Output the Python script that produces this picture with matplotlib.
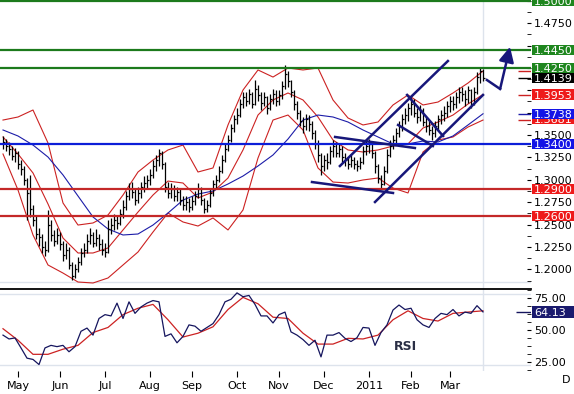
import numpy as np
import matplotlib
matplotlib.use("Agg")
import matplotlib.pyplot as plt
import matplotlib.transforms as mtransforms
from matplotlib.patches import Rectangle
from matplotlib.ticker import FuncFormatter, FormatStrFormatter

# ---- price bars (one bar every 3 px in the original chart) ----
hi = [1.349, 1.346, 1.342, 1.338, 1.336, 1.332, 1.322, 1.316, 1.302, 1.306,
      1.272, 1.260, 1.246, 1.240, 1.232, 1.266, 1.255, 1.244, 1.246, 1.242,
      1.232, 1.230, 1.225, 1.208, 1.206, 1.214, 1.224, 1.230, 1.240, 1.246,
      1.242, 1.245, 1.240, 1.234, 1.230, 1.255, 1.258, 1.262, 1.260, 1.268,
      1.278, 1.288, 1.296, 1.298, 1.290, 1.292, 1.298, 1.304, 1.306, 1.312,
      1.322, 1.328, 1.334, 1.332, 1.320, 1.298, 1.296, 1.294, 1.292, 1.290,
      1.282, 1.282, 1.280, 1.282, 1.288, 1.296, 1.292, 1.280, 1.278, 1.290,
      1.300, 1.306, 1.316, 1.328, 1.340, 1.350, 1.362, 1.372, 1.380, 1.390,
      1.398, 1.398, 1.402, 1.398, 1.411, 1.406, 1.398, 1.398, 1.394, 1.396,
      1.402, 1.400, 1.400, 1.410, 1.428, 1.422, 1.412, 1.400, 1.388, 1.378,
      1.370, 1.374, 1.372, 1.366, 1.356, 1.344, 1.330, 1.328, 1.330, 1.338,
      1.344, 1.342, 1.340, 1.338, 1.330, 1.326, 1.328, 1.326, 1.322, 1.326,
      1.338, 1.344, 1.346, 1.342, 1.332, 1.318, 1.306, 1.316, 1.334, 1.344,
      1.350, 1.358, 1.366, 1.374, 1.380, 1.386, 1.392, 1.390, 1.380, 1.384,
      1.380, 1.370, 1.366, 1.360, 1.366, 1.372, 1.378, 1.382, 1.388, 1.394,
      1.394, 1.398, 1.404, 1.404, 1.400, 1.405, 1.402, 1.404, 1.420, 1.425,
      1.424]
lo = [1.334, 1.332, 1.328, 1.322, 1.320, 1.312, 1.305, 1.294, 1.255, 1.259,
      1.248, 1.234, 1.226, 1.218, 1.215, 1.220, 1.232, 1.226, 1.228, 1.222,
      1.210, 1.212, 1.200, 1.188, 1.190, 1.197, 1.205, 1.214, 1.218, 1.228,
      1.225, 1.226, 1.222, 1.216, 1.214, 1.218, 1.240, 1.244, 1.245, 1.250,
      1.258, 1.266, 1.278, 1.280, 1.272, 1.274, 1.280, 1.286, 1.290, 1.294,
      1.302, 1.310, 1.316, 1.312, 1.286, 1.280, 1.280, 1.276, 1.276, 1.272,
      1.266, 1.266, 1.264, 1.266, 1.272, 1.280, 1.272, 1.263, 1.264, 1.270,
      1.282, 1.290, 1.298, 1.308, 1.320, 1.332, 1.342, 1.354, 1.362, 1.370,
      1.380, 1.382, 1.385, 1.380, 1.384, 1.388, 1.378, 1.382, 1.374, 1.378,
      1.385, 1.382, 1.384, 1.390, 1.402, 1.404, 1.392, 1.378, 1.368, 1.360,
      1.352, 1.356, 1.355, 1.346, 1.334, 1.320, 1.305, 1.310, 1.312, 1.318,
      1.326, 1.325, 1.326, 1.320, 1.316, 1.312, 1.314, 1.312, 1.310, 1.312,
      1.318, 1.328, 1.330, 1.324, 1.308, 1.296, 1.290, 1.294, 1.308, 1.326,
      1.334, 1.340, 1.348, 1.355, 1.362, 1.366, 1.372, 1.370, 1.364, 1.366,
      1.360, 1.354, 1.350, 1.345, 1.348, 1.356, 1.362, 1.366, 1.370, 1.376,
      1.378, 1.380, 1.386, 1.388, 1.382, 1.386, 1.380, 1.384, 1.396, 1.408,
      1.410]
cl = [1.342, 1.338, 1.335, 1.327, 1.330, 1.318, 1.312, 1.300, 1.285, 1.268,
      1.255, 1.240, 1.236, 1.225, 1.222, 1.250, 1.238, 1.232, 1.238, 1.228,
      1.216, 1.222, 1.205, 1.193, 1.200, 1.208, 1.218, 1.222, 1.232, 1.238,
      1.230, 1.235, 1.228, 1.222, 1.220, 1.245, 1.250, 1.255, 1.252, 1.262,
      1.270, 1.282, 1.290, 1.287, 1.278, 1.285, 1.292, 1.296, 1.300, 1.305,
      1.315, 1.322, 1.330, 1.318, 1.292, 1.285, 1.290, 1.282, 1.286, 1.278,
      1.272, 1.275, 1.270, 1.276, 1.282, 1.290, 1.278, 1.268, 1.272, 1.285,
      1.295, 1.300, 1.310, 1.322, 1.335, 1.345, 1.358, 1.368, 1.372, 1.385,
      1.392, 1.388, 1.396, 1.385, 1.402, 1.395, 1.386, 1.392, 1.380, 1.390,
      1.396, 1.388, 1.395, 1.405, 1.418, 1.410, 1.398, 1.385, 1.375, 1.366,
      1.360, 1.368, 1.362, 1.352, 1.340, 1.328, 1.315, 1.322, 1.320, 1.332,
      1.338, 1.330, 1.335, 1.326, 1.322, 1.318, 1.322, 1.318, 1.315, 1.320,
      1.332, 1.338, 1.340, 1.330, 1.315, 1.302, 1.295, 1.310, 1.328, 1.338,
      1.345, 1.352, 1.360, 1.368, 1.372, 1.380, 1.385, 1.375, 1.370, 1.378,
      1.365, 1.360, 1.356, 1.352, 1.360, 1.368, 1.372, 1.375, 1.382, 1.388,
      1.385, 1.392, 1.398, 1.396, 1.390, 1.400, 1.385, 1.398, 1.415, 1.421,
      1.414]

# indicators read every 5 bars
bb_up = [1.3668, 1.3702, 1.3780, 1.3412, 1.2742, 1.2496, 1.2519, 1.2608, 1.2831, 1.3088,
         1.3222, 1.3334, 1.3389, 1.3088, 1.3133, 1.3613, 1.4003, 1.4227, 1.4148, 1.4249,
         1.4227, 1.4249, 1.3892, 1.3691, 1.3613, 1.3646, 1.3836, 1.3948, 1.3836, 1.3869,
         1.3970, 1.4081, 1.4215]
bb_mid = [1.3479, 1.3289, 1.3077, 1.2731, 1.2351, 1.2184, 1.2184, 1.2240, 1.2441, 1.2641,
          1.2831, 1.2987, 1.2965, 1.2798, 1.2865, 1.3021, 1.3334, 1.3724, 1.3892, 1.3970,
          1.3892, 1.3702, 1.3445, 1.3334, 1.3311, 1.3334, 1.3378, 1.3401, 1.3579, 1.3646,
          1.3724, 1.3847, 1.3953]
bb_lo = [1.3289, 1.2887, 1.2385, 1.2050, 1.1960, 1.1860, 1.1849, 1.1905, 1.2050, 1.2195,
         1.2418, 1.2630, 1.2530, 1.2485, 1.2575, 1.2441, 1.2664, 1.3244, 1.3668, 1.3724,
         1.3557, 1.3133, 1.2976, 1.2965, 1.2999, 1.3021, 1.2909, 1.2854, 1.3311, 1.3445,
         1.3479, 1.3590, 1.3668]
ma = [1.3557, 1.3490, 1.3389, 1.3255, 1.3055, 1.2820, 1.2586, 1.2452, 1.2385, 1.2396,
      1.2496, 1.2630, 1.2775, 1.2842, 1.2876, 1.2954, 1.3043, 1.3155, 1.3278, 1.3456,
      1.3668, 1.3724, 1.3702, 1.3646, 1.3557, 1.3479, 1.3401, 1.3401, 1.3434, 1.3423,
      1.3490, 1.3613, 1.3738]

# RSI every 2 bars, signal every 5 bars
rsi = [46, 43, 43.8, 36, 28, 27, 23, 36, 38, 37,
       38, 33, 37, 49, 51.5, 46, 59, 62, 61, 71,
       59, 72, 63, 68, 71, 73, 72, 45, 47, 40,
       45, 54, 53, 49, 52, 55, 62, 72, 74, 79,
       76, 77, 70, 61, 61, 55.5, 62, 64, 48.5, 46,
       42.5, 38, 42, 29, 46, 46, 48, 43.5, 41, 44,
       52, 51.5, 38, 48, 54, 65.6, 69.5, 66, 67, 58,
       54, 52, 59, 63, 62, 66, 61, 64, 63, 69,
       64.13]
rsi_sig = [51, 42, 31, 31, 35, 38, 48, 52, 62, 67, 70, 58, 44.5, 47.5, 52.5, 66, 75.5,
           70.5, 60, 59, 47.5, 39, 39, 43.5, 43, 46, 58, 65, 59, 57, 63, 64, 65]

months = ["May", "Jun", "Jul", "Aug", "Sep", "Oct", "Nov", "Dec", "2011", "Feb", "Mar"]
month_bar = [5, 19, 34, 49, 63, 78, 92, 107, 122, 136, 149]

# support / resistance levels
green_lv = [1.5000, 1.4450, 1.4250]
blue_lv = [1.3400]
red_lv = [1.2900, 1.2600]

# hand drawn lines: (bar, price) start / end
trend_start = [(112.3, 1.3155), (124.0, 1.2753), (134.7, 1.3948), (131.7, 1.3613),
               (110.7, 1.3479), (103.0, 1.2976)]
trend_end = [(148.3, 1.4327), (160.0, 1.3948), (146.7, 1.3490), (143.3, 1.3378),
             (137.3, 1.3356), (130.0, 1.2854)]
arrow_pts = [(161.3, 1.4115), (165.7, 1.4015), (169.0, 1.4485)]

# value tags on the right axis
tags = [("1.5000", 1.5000, "#1e861e"), ("1.4450", 1.4450, "#1e861e"),
        ("1.4250", 1.4250, "#1e861e"), ("1.4139", 1.4139, "black"),
        ("1.3953", 1.3953, "#ee1a1a"), ("1.3681", 1.3681, "#ee1a1a"),
        ("1.3738", 1.3738, "#1414e6"), ("1.3400", 1.3400, "#1414e6"),
        ("1.2900", 1.2900, "#ee1a1a"), ("1.2600", 1.2600, "#ee1a1a")]

RED = "#cc2222"
NAVY = "#17177a"
GRID = "#dde3ec"

fig = plt.figure(figsize=(5.74, 3.94), dpi=100)
fig.set_facecolor("white")
ax = fig.add_axes([0, 1 - 289 / 394, 531 / 574, 289 / 394])
ax2 = fig.add_axes([0, 1 - 371 / 394, 531 / 574, 82 / 394])

idx = np.arange(len(cl))
nodes = np.arange(len(bb_up)) * 5

# ---- price panel ----
ax.axvline(160, color=GRID, lw=1, zorder=0)
ax.axhline(1.186, color=GRID, lw=1, zorder=0)
ax.plot(nodes, bb_up, color=RED, lw=0.8, zorder=2)
ax.plot(nodes, bb_mid, color=RED, lw=0.8, zorder=2)
ax.plot(nodes, bb_lo, color=RED, lw=0.8, zorder=2)
ax.plot(nodes, ma, color="#1c1ca8", lw=0.8, zorder=2)
ax.vlines(idx, lo, hi, color="black", lw=0.9, zorder=3)
ax.hlines(cl, idx, idx + 0.5, color="black", lw=0.9, zorder=3)

for p in green_lv:
    ax.axhline(p, color="#1c7a1c", lw=1.6, zorder=3.5)
for p in blue_lv:
    ax.axhline(p, color="#0c1ed8", lw=1.6, zorder=3.5)
for p in red_lv:
    ax.axhline(p, color="#c42828", lw=1.6, zorder=3.5)

for s, e in zip(trend_start, trend_end):
    ax.plot([s[0], e[0]], [s[1], e[1]], color=NAVY, lw=1.8, zorder=5)
ax.plot([arrow_pts[0][0], arrow_pts[1][0]], [arrow_pts[0][1], arrow_pts[1][1]],
        color=NAVY, lw=1.8, zorder=5)
ax.annotate("", xy=arrow_pts[2], xytext=arrow_pts[1],
            arrowprops=dict(arrowstyle="-|>,head_length=0.9,head_width=0.45",
                            color=NAVY, lw=1.8, shrinkA=0, shrinkB=0), zorder=5)

# last value dashes next to the axis
ax.hlines([bb_up[-1], cl[-1], bb_mid[-1], ma[-1], bb_lo[-1]], 171.5, 176,
          colors=[RED, "black", RED, "#1c1ca8", RED], lw=1, zorder=4)

ax.set_xlim(-1, 176)
ax.set_ylim(1.1782, 1.5008)
for sp in ax.spines.values():
    sp.set_visible(False)
ax.tick_params(axis="x", bottom=False, labelbottom=False)
ax.yaxis.tick_right()
ax.set_yticks(np.arange(1.2, 1.5001, 0.025))
ax.set_yticks(np.arange(1.1875, 1.5, 0.025), minor=True)
tag_vals = [t[1] for t in tags]
ax.yaxis.set_major_formatter(FuncFormatter(
    lambda v, pos: "" if min(abs(v - t) for t in tag_vals) < 0.006 else "%.4f" % v))
ax.tick_params(axis="y", which="both", direction="in", length=3, pad=2,
               labelsize=8, colors="black")


def tag(axis, y, text, fc, h, z):
    tr = mtransforms.blended_transform_factory(axis.transAxes, axis.transData)
    axis.add_patch(Rectangle((1.0019, y - h / 2), 0.0791, h, transform=tr, fc=fc,
                             ec="none", clip_on=False, zorder=z))
    axis.text(1.0056, y, text, transform=tr, color="white", fontsize=8,
              va="center_baseline", ha="left", zorder=z + 0.1, clip_on=False)


for k, (txt, val, col) in enumerate(tags):
    tag(ax, val, txt, col, 0.0115, 6 + k * 0.2)

# ---- RSI panel ----
ax2.axvline(160, color=GRID, lw=1, zorder=0)
ax2.axhline(78.1, color=GRID, lw=1, zorder=0)
ax2.axhline(22.7, color=GRID, lw=1, zorder=0)
ax2.plot(np.arange(len(rsi)) * 2, rsi, color="#15155e", lw=0.9, zorder=3)
ax2.plot(nodes, rsi_sig, color=RED, lw=0.9, zorder=2)
ax2.hlines(rsi[-1], 171, 176, color="#15155e", lw=1, zorder=4)
ax2.text(134, 37.5, "RSI", fontsize=9, fontweight="bold", color="#2a2f45",
         ha="center", va="center")

ax2.set_xlim(-1, 176)
ax2.set_ylim(17.97, 82.03)
for name, sp in ax2.spines.items():
    sp.set_visible(name == "top")
ax2.spines["top"].set_color("black")
ax2.spines["top"].set_linewidth(1.3)
ax2.yaxis.tick_right()
ax2.set_yticks([25, 50, 75])
ax2.set_yticks(np.arange(18.75, 82, 6.25), minor=True)
ax2.yaxis.set_major_formatter(FormatStrFormatter("%.2f"))
ax2.tick_params(axis="y", which="both", direction="in", length=3, pad=2,
                labelsize=8, colors="black")
ax2.set_xticks(month_bar)
ax2.set_xticklabels(months)
ax2.tick_params(axis="x", direction="out", length=4.3, pad=3, labelsize=8)
tag(ax2, rsi[-1], "64.13", "#1a1a6e", 9.0, 6)

fig.text(566 / 574, 1 - 380 / 394, "D", fontsize=8, ha="center", va="center")

fig.savefig("out.png", dpi=100)
